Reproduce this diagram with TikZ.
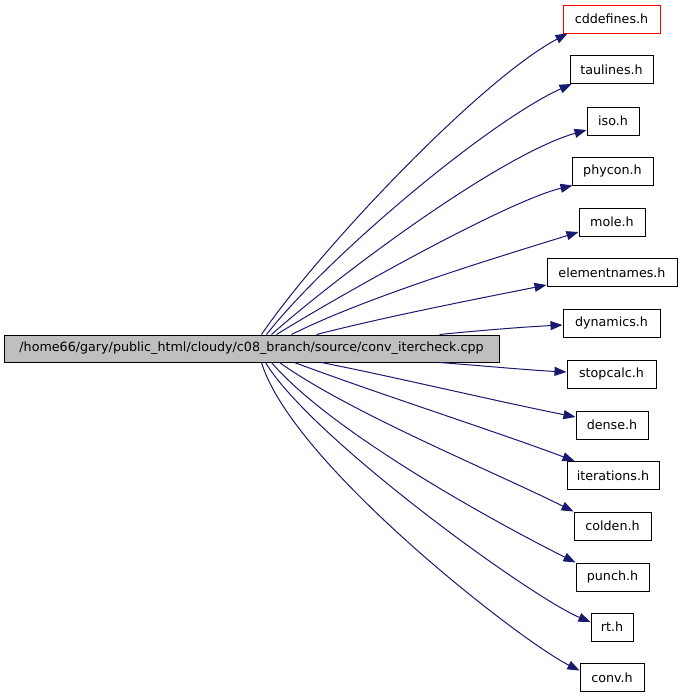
\documentclass[tikz,border=0pt]{standalone}
\usepackage{fontspec}
\setmainfont{DejaVu Sans}
\usetikzlibrary{arrows.meta}
\definecolor{edgeblue}{HTML}{191970}
\definecolor{maingray}{HTML}{BFBFBF}
\begin{document}
\begin{tikzpicture}[x=1pt,y=-1pt,
  filebox/.style={draw=black,line width=1pt,minimum height=28pt,inner sep=0pt,
    font=\fontsize{12.7}{14}\selectfont},
  dep/.style={draw=edgeblue,line width=1pt,-{Triangle[length=12pt,width=9pt]}}]
\useasboundingbox (0,0) rectangle (683,696);
\node[filebox,fill=maingray,minimum width=495pt,minimum height=27pt] (main) at (251.5,348.5)
  {/home66/gary/public\_html/cloudy/c08\_branch/source/conv\_itercheck.cpp};
\node[filebox,draw=red,minimum width=97pt] (cdd) at (611.5,19) {cddefines.h};
\node[filebox,minimum width=83pt] (tau) at (611.5,69.5) {taulines.h};
\node[filebox,minimum width=52pt] (iso) at (613,121) {iso.h};
\node[filebox,minimum width=81pt] (phy) at (612.5,171) {phycon.h};
\node[filebox,minimum width=66pt] (mole) at (612,222) {mole.h};
\node[filebox,minimum width=130pt] (elem) at (612,272.5) {elementnames.h};
\node[filebox,minimum width=97pt] (dyn) at (611.5,323) {dynamics.h};
\node[filebox,minimum width=89pt] (stop) at (611.5,374) {stopcalc.h};
\node[filebox,minimum width=72pt] (dense) at (612,425) {dense.h};
\node[filebox,minimum width=92pt] (iter) at (613,475.5) {iterations.h};
\node[filebox,minimum width=77pt] (col) at (612.5,526) {colden.h};
\node[filebox,minimum width=73pt] (pun) at (612.5,577) {punch.h};
\node[filebox,minimum width=42pt] (rt) at (612,627) {rt.h};
\node[filebox,minimum width=64pt] (conv) at (612,677.5) {conv.h};
% upward edges
\draw[dep] ([xshift=258pt]main.north west) .. controls +(58,-85) and +(-88,47) .. ([xshift=5pt]cdd.south west);
\draw[dep] ([xshift=263pt]main.north west) .. controls +(63,-80) and +(-82,37) .. ([xshift=2pt]tau.south west);
\draw[dep] ([xshift=268pt]main.north west) .. controls +(68,-60) and +(-87,25) .. ([yshift=-9pt]iso.west);
\draw[dep] ([xshift=273pt]main.north west) .. controls +(73,-45) and +(-63,15) .. ([xshift=1pt]phy.south west);
\draw[dep] ([xshift=288pt]main.north west) .. controls +(80,-40) and +(-70,22) .. ([yshift=-10pt]mole.west);
\draw[dep] ([xshift=313pt]main.north west) .. controls +(70,-18) and +(-70,14) .. ([yshift=2pt]elem.south west);
\draw[dep] ([xshift=436pt]main.north west) .. controls +(40,-4) and +(-40,2) .. ([yshift=-2pt]dyn.west);
% downward edges
\draw[dep] ([xshift=436pt]main.south west) .. controls +(40,3) and +(-40,-2) .. ([yshift=2pt]stop.west);
\draw[dep] ([xshift=318pt]main.south west) .. controls +(80,16) and +(-80,-16) .. ([yshift=8pt]dense.west);
\draw[dep] ([xshift=291pt]main.south west) .. controls +(80,30) and +(-80,-30) .. ([xshift=8pt]iter.north west);
\draw[dep] ([xshift=276pt]main.south west) .. controls +(70,50) and +(-80,-40) .. (col.north west);
\draw[dep] ([xshift=268pt]main.south west) .. controls +(60,70) and +(-80,-40) .. (pun.north west);
\draw[dep] ([xshift=262pt]main.south west) .. controls +(45,75) and +(-60,-25) .. ([yshift=5pt]rt.west);
\draw[dep] ([xshift=258pt]main.south west) .. controls +(30,100) and +(-60,-30) .. ([yshift=7pt]conv.west);
\end{tikzpicture}
\end{document}
